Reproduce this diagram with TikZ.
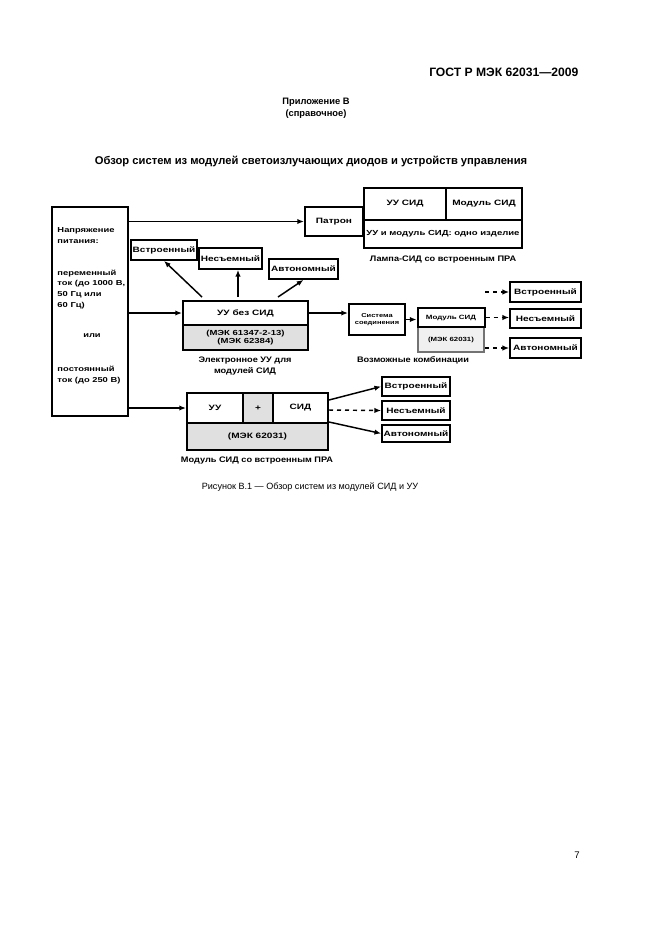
\documentclass[tikz,border=0pt]{standalone}
\usepackage{fontspec}
\setmainfont{Liberation Sans}
\newfontfamily\wide[FakeStretch=1.3]{Liberation Sans}
\newfontfamily\capfont[FakeStretch=1.15]{Liberation Sans}
\usetikzlibrary{arrows.meta}

\tikzset{every picture/.style={line width=0.75pt}}
\tikzset{
  sz/.style 2 args={minimum width=#1*0.75pt, minimum height=#2*0.75pt},
  blk/.style={draw, line width=1.5pt, inner sep=0.75pt, align=center, font=\wide\bfseries\fontsize{5.8}{7}\selectfont},
  sml/.style={blk, line width=1.3pt, font=\wide\bfseries\fontsize{5.8}{6.5}\selectfont},
  std/.style={fill=black!12},
  lbl/.style={inner sep=0.75pt, align=left, font=\wide\bfseries\fontsize{5.4}{8.2}\selectfont},
  capt/.style={inner sep=0.75pt, align=center, font=\capfont\bfseries\fontsize{6}{8.6}\selectfont},
  arr/.style={line width=1.1pt, -{Latex[length=5pt,width=4pt]}},
}

\begin{document}
\begin{tikzpicture}[x=0.75pt,y=0.75pt,yscale=-1,xscale=1]
\useasboundingbox (0,0) rectangle (661,936);

% Text Node
\node [anchor=east, inner sep=0.75pt, font=\bfseries\fontsize{9.1}{11}\selectfont] (gost) at (580,72) {ГОСТ Р МЭК 62031—2009};
% Text Node
\node [align=center, inner sep=0.75pt, font=\bfseries\fontsize{7}{9}\selectfont] (annex) at (316,108) {Приложение В\\(справочное)};
% Text Node
\node [inner sep=0.75pt, font=\bfseries\fontsize{8.4}{10}\selectfont] (title) at (311,161) {Обзор систем из модулей светоизлучающих диодов и устройств управления};

%Shape: Rectangle
\node [blk, sz={76}{209}] (supply) at (90,311.5) {};
% Text Node
\node [lbl, anchor=west] (supHead) at (56,235.5) {Напряжение\\питания:};
\node [lbl, anchor=west] (supAC) at (56,289.5) {переменный\\ток (до 1000 В,\\50 Гц или\\60 Гц)};
\node [lbl] (supOr) at (92,336) {или};
\node [lbl, anchor=west] (supDC) at (56,375) {постоянный\\ток (до 250 В)};

%Shape: Rectangle
\node [blk, sz={58}{29}] (patron) at (334,221.5) {Патрон};
\node [blk, sz={82}{32}] (lampCG) at (405,204) {УУ СИД};
\node [blk, sz={76}{32}] (lampMod) at (484,204) {Модуль СИД};
\node [blk, sz={158}{28}, inner sep=0pt, font=\wide\bfseries\fontsize{5.5}{7}\selectfont] (lampOne) at (443,234) {УУ и модуль СИД: одно изделие};
% Text Node
\node [capt] (lampCap) at (443,260) {Лампа-СИД со встроенным ПРА};

%Shape: Rectangle
\node [blk, sz={125}{24}] (cgTop) at (245.5,313) {УУ без СИД};
\node [blk, std, sz={125}{25}, font=\wide\bfseries\fontsize{5.5}{6.6}\selectfont] (cgStd) at (245.5,337.5) {(МЭК 61347-2-13)\\(МЭК 62384)};
% Text Node
\node [capt] (cgCap) at (245,366) {Электронное УУ для\\модулей СИД};

%Shape: Rectangle
\node [sml, sz={66}{20}] (topBuilt) at (164,250) {Встроенный};
\node [sml, sz={63}{21}] (topInteg) at (230.5,258.5) {Несъемный};
\node [sml, sz={69}{20}] (topIndep) at (303.5,269) {Автономный};
\coordinate (cgA) at (202,297);
\coordinate (cgB) at (238,297);
\coordinate (cgC) at (278,297);

%Straight Lines
\draw [arr] (cgA) -- (topBuilt.south);
\draw [arr] (cgB) -- (cgB |- topInteg.south);
\draw [arr] (cgC) -- (topIndep.south);

%Shape: Rectangle
\node [blk, sz={56}{31}, font=\wide\bfseries\fontsize{4.3}{5.4}\selectfont] (sysConn) at (377,319.5) {Система\\соединения};
\node [blk, draw=black!55, line width=1pt, fill=black!6, sz={66}{25}, font=\wide\bfseries\fontsize{4.5}{5.4}\selectfont] (modStd) at (451,339.5) {(МЭК 62031)};
\node [blk, fill=white, sz={67}{19}, font=\wide\bfseries\fontsize{4.6}{5.4}\selectfont] (modTop) at (451,317.5) {Модуль СИД};
% Text Node
\node [capt] (modCap) at (413,360) {Возможные комбинации};

%Shape: Rectangle
\node [sml, sz={71}{20}] (rBuilt) at (545.5,292) {Встроенный};
\node [sml, sz={71}{19}] (rInteg) at (545.5,318.5) {Несъемный};
\node [sml, sz={71}{20}] (rIndep) at (545.5,348) {Автономный};
\coordinate (rA) at (485,292);
\coordinate (rC) at (485,348);

%Straight Lines
\draw [arr, dashed] (rA) -- (rBuilt.west);
\draw [arr, dashed] (modTop.east) -- (modTop.east -| rInteg.west);
\draw [arr, dashed] (rC) -- (rIndep.west);

%Shape: Rectangle
\node [blk, sz={56}{30}] (bUU) at (215,408) {УУ};
\node [blk, std, sz={30}{30}] (bPlus) at (258,408) {+};
\node [blk, sz={55}{30}] (bLed) at (300.5,408) {СИД};
\node [blk, std, sz={141}{27}] (bStd) at (257.5,436.5) {(МЭК 62031)};
% Text Node
\node [capt] (bCap) at (257,461) {Модуль СИД со встроенным ПРА};

%Shape: Rectangle
\node [sml, sz={68}{19}] (bBuilt) at (416,386.5) {Встроенный};
\node [sml, sz={68}{19}] (bInteg) at (416,410.5) {Несъемный};
\node [sml, sz={68}{17}] (bIndep) at (416,433.5) {Автономный};
\coordinate (bA) at (329,400);
\coordinate (bB) at (329,410);
\coordinate (bC) at (329,422);

%Straight Lines
\draw [arr] (bA) -- (bBuilt.west);
\draw [arr, dashed] (bB) -- (bInteg.west);
\draw [arr] (bC) -- (bIndep.west);

%Straight Lines
\draw [arr] (supply.east |- patron) -- (patron.west);
\draw [arr] (supply.east |- cgTop) -- (cgTop.west);
\draw [arr] (supply.east |- bUU) -- (bUU.west);
\draw [arr] (cgTop.east) -- (cgTop.east -| sysConn.west);
\draw [arr] (sysConn.east) -- (sysConn.east -| modTop.west);

% Text Node
\node [inner sep=0.75pt, font=\fontsize{6.8}{8}\selectfont] (figCap) at (310,487) {Рисунок В.1 — Обзор систем из модулей СИД и УУ};
% Text Node
\node [inner sep=0.75pt, font=\fontsize{7.2}{8}\selectfont] (pageNo) at (577,855) {7};
\end{tikzpicture}
\end{document}
